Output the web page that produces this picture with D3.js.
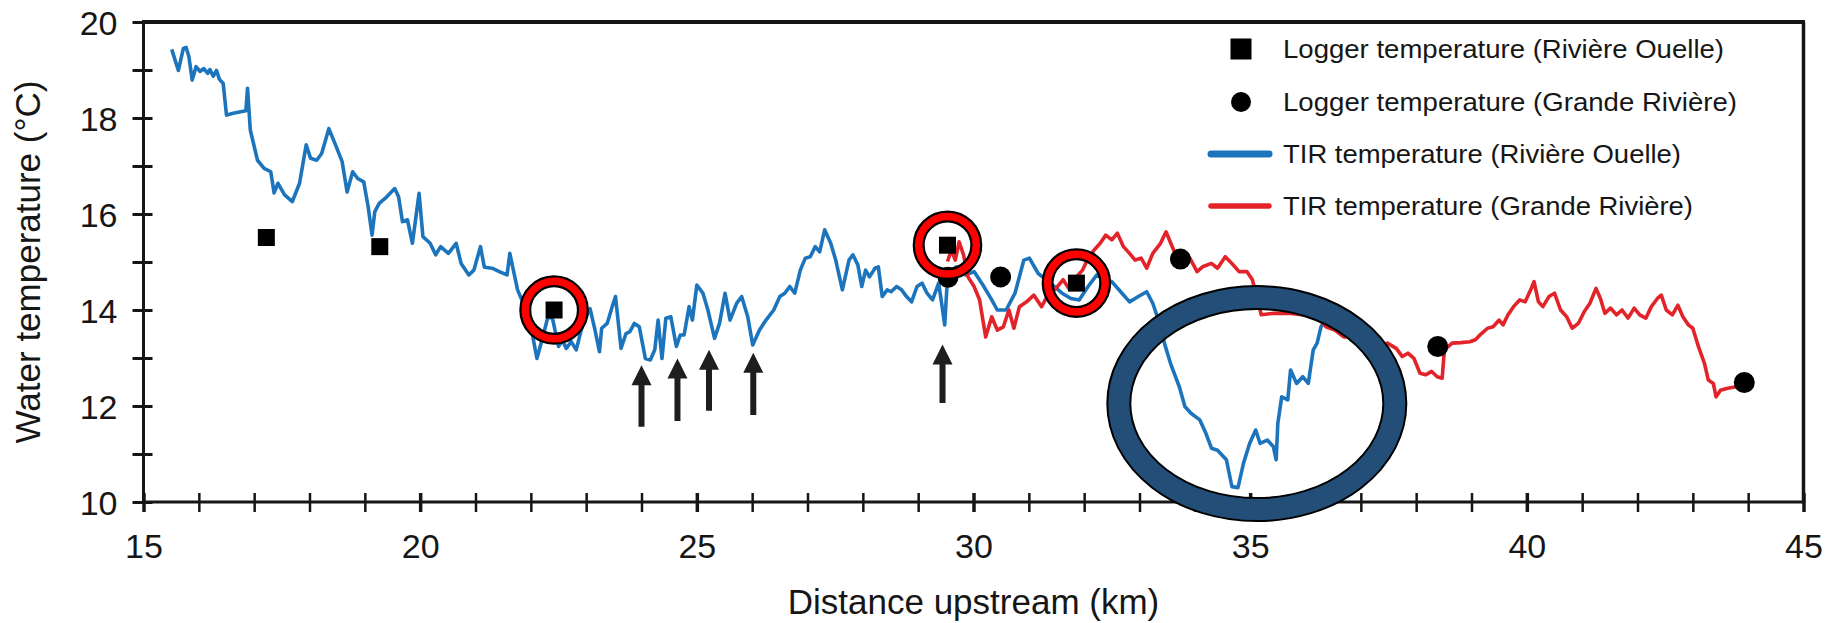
<!DOCTYPE html>
<html>
<head>
<meta charset="utf-8">
<script src="https://cdn.jsdelivr.net/npm/d3@7"></script>
<style>
html, body { margin: 0; padding: 0; background: #fff; }
svg { display: block; font-family: "Liberation Sans", Arial, Helvetica, sans-serif; }
</style>
</head>
<body>
<svg id="chart" width="1844" height="623"></svg>
<script>
// TIR temperature along Rivière Ouelle: [distance km, temperature °C]
const tirOuelle = [
  [15.51,19.43],[15.63,18.99],[15.72,19.45],[15.77,19.47],[15.82,19.28],[15.88,18.79],[15.95,19.07],[16.02,18.97],
  [16.09,19.03],[16.16,18.93],[16.20,19.01],[16.26,18.87],[16.32,18.99],[16.37,18.81],[16.44,18.72],[16.50,18.06],
  [16.62,18.10],[16.85,18.15],[16.88,18.62],[16.93,17.75],[17.06,17.12],[17.18,16.95],[17.30,16.88],[17.36,16.44],
  [17.43,16.64],[17.55,16.40],[17.69,16.26],[17.82,16.64],[17.94,17.44],[18.02,17.16],[18.13,17.12],[18.22,17.26],
  [18.35,17.78],[18.47,17.44],[18.59,17.09],[18.68,16.46],[18.78,16.88],[18.87,16.74],[18.98,16.67],[19.06,16.15],
  [19.13,15.56],[19.18,16.05],[19.26,16.22],[19.37,16.33],[19.54,16.53],[19.61,16.36],[19.68,15.84],[19.77,15.88],
  [19.86,15.39],[19.98,16.43],[20.05,15.53],[20.18,15.39],[20.28,15.15],[20.37,15.32],[20.51,15.18],[20.65,15.39],
  [20.74,14.97],[20.88,14.73],[20.97,14.83],[21.09,15.32],[21.16,14.89],[21.30,14.87],[21.43,14.80],[21.57,14.73],
  [21.62,15.18],[21.76,14.42],[21.94,13.93],[22.03,13.48],[22.11,12.99],[22.20,13.37],[22.31,13.86],[22.39,13.83],
  [22.50,13.24],[22.57,13.37],[22.64,13.20],[22.73,13.34],[22.82,13.17],[22.94,13.72],[23.07,14.03],[23.16,13.58],
  [23.24,13.13],[23.28,13.62],[23.38,13.72],[23.47,14.07],[23.53,14.28],[23.63,13.20],[23.72,13.51],[23.79,13.55],
  [23.87,13.72],[23.96,13.65],[24.07,12.99],[24.16,12.96],[24.24,13.17],[24.30,13.79],[24.37,12.99],[24.44,13.83],
  [24.53,13.86],[24.63,13.24],[24.70,13.48],[24.77,13.48],[24.86,14.07],[24.92,13.79],[25.00,14.52],[25.11,14.35],
  [25.20,14.00],[25.32,13.41],[25.41,13.72],[25.51,14.35],[25.60,13.79],[25.72,14.14],[25.81,14.28],[25.92,13.86],
  [26.01,13.27],[26.13,13.58],[26.25,13.79],[26.39,14.00],[26.50,14.28],[26.59,14.35],[26.68,14.49],[26.77,14.35],
  [26.87,14.83],[26.96,15.08],[27.05,15.11],[27.14,15.32],[27.22,15.21],[27.31,15.67],[27.42,15.39],[27.51,15.04],
  [27.63,14.42],[27.75,15.04],[27.82,15.15],[27.91,14.94],[27.98,14.49],[28.05,14.83],[28.12,14.69],[28.22,14.87],
  [28.28,14.90],[28.35,14.28],[28.44,14.42],[28.51,14.38],[28.61,14.49],[28.70,14.42],[28.79,14.28],[28.88,14.17],
  [28.98,14.49],[29.07,14.56],[29.16,14.35],[29.26,14.21],[29.37,14.56],[29.42,14.17],[29.48,13.69],[29.53,14.69],
  [29.58,14.80],[29.69,14.90],[29.85,14.73],[30.01,14.80],[30.17,14.52],[30.33,14.21],[30.43,14.00],[30.59,14.00],
  [30.75,14.35],[30.91,15.04],[31.01,15.08],[31.17,14.76],[31.39,14.56],[31.60,14.35],[31.76,14.24],[31.91,14.21],
  [32.07,14.49],[32.23,14.73],[32.39,14.63],[32.50,14.59],[32.66,14.38],[32.82,14.17],[32.98,14.28],[33.13,14.38],
  [33.24,14.14],[33.35,13.76],[33.45,13.31],[33.56,12.89],[33.72,12.40],[33.82,11.99],[33.93,11.85],[34.09,11.71],
  [34.20,11.43],[34.30,11.12],[34.41,11.08],[34.57,10.88],[34.67,10.32],[34.78,10.30],[34.88,10.81],[34.99,11.22],
  [35.10,11.50],[35.18,11.22],[35.31,11.29],[35.42,11.15],[35.47,10.88],[35.50,11.64],[35.57,12.19],[35.68,12.13],
  [35.73,12.75],[35.84,12.47],[35.95,12.61],[36.05,12.47],[36.14,13.17],[36.21,13.31],[36.28,13.65],[36.35,13.79]
];

// TIR temperature along Grande Rivière
const tirGrande = [
  [29.53,15.01],[29.60,15.25],[29.67,15.04],[29.74,15.42],[29.82,15.15],[29.90,14.69],[30.01,14.49],[30.11,14.21],
  [30.22,13.44],[30.33,13.86],[30.43,13.58],[30.54,13.65],[30.64,14.00],[30.73,13.62],[30.83,14.07],[30.96,14.17],
  [31.09,14.31],[31.23,14.07],[31.33,14.28],[31.49,14.45],[31.62,14.63],[31.72,14.45],[31.86,14.69],[31.97,14.83],
  [32.07,15.08],[32.18,15.25],[32.29,15.39],[32.39,15.56],[32.50,15.46],[32.60,15.60],[32.71,15.32],[32.82,15.18],
  [32.92,15.04],[33.03,15.08],[33.13,14.87],[33.24,15.18],[33.38,15.39],[33.48,15.63],[33.58,15.35],[33.67,15.11],
  [33.77,15.08],[33.91,15.08],[34.04,14.80],[34.14,14.90],[34.30,14.97],[34.41,14.87],[34.55,15.11],[34.67,14.97],
  [34.80,14.80],[34.94,14.80],[35.04,14.63],[35.15,14.14],[35.20,13.90],[35.42,13.93],[35.73,13.93],[35.95,13.90],
  [36.21,13.86],[36.37,13.65],[36.53,13.58],[36.69,13.44],[36.85,13.44],[37.01,13.41],[37.16,13.37],[37.32,13.24],
  [37.48,13.31],[37.64,13.20],[37.75,13.03],[37.85,13.10],[37.96,12.99],[38.07,12.68],[38.17,12.65],[38.28,12.72],
  [38.38,12.61],[38.47,12.58],[38.51,13.17],[38.65,13.31],[38.81,13.32],[38.97,13.34],[39.07,13.38],[39.18,13.51],
  [39.29,13.62],[39.39,13.65],[39.50,13.79],[39.57,13.69],[39.66,13.90],[39.76,14.07],[39.87,14.21],[39.97,14.17],
  [40.08,14.45],[40.13,14.59],[40.21,14.17],[40.29,14.07],[40.40,14.28],[40.50,14.35],[40.61,14.00],[40.72,13.86],
  [40.82,13.62],[40.93,13.72],[41.04,13.97],[41.14,14.14],[41.25,14.45],[41.33,14.24],[41.41,13.93],[41.51,14.04],
  [41.62,13.90],[41.72,14.00],[41.83,13.83],[41.94,14.04],[42.04,13.90],[42.15,13.83],[42.25,14.07],[42.36,14.24],
  [42.43,14.31],[42.52,14.00],[42.63,13.90],[42.73,14.10],[42.82,13.86],[42.92,13.69],[43.00,13.62],[43.10,13.24],
  [43.21,12.89],[43.28,12.54],[43.37,12.47],[43.42,12.19],[43.50,12.33],[43.63,12.37],[43.79,12.40],[43.90,12.47]
];

// logger readings
const loggerOuelle = [[17.22,15.51],[19.27,15.32],[22.42,14.00],[29.53,15.35],[31.86,14.56]];
const loggerGrande = [[29.54,14.68],[30.49,14.69],[33.74,15.06],[38.39,13.24],[43.93,12.49]];

// annotations (data units)
const circledLoggers = [2, 3, 4];
const arrowKm   = [24.00, 24.65, 25.22, 26.02, 29.44];
const arrowTip  = [12.85, 12.99, 13.17, 13.11, 13.28];
const arrowBase = [11.57, 11.69, 11.90, 11.81, 12.06];
const ellipseCentre = [35.12, 12.05];

const xTicks = d3.range(15, 46, 1);
const yTicks = d3.range(10, 21, 1);

const legendLabels = [
  "Logger temperature (Rivière Ouelle)",
  "Logger temperature (Grande Rivière)",
  "TIR temperature (Rivière Ouelle)",
  "TIR temperature (Grande Rivière)"
];

const BLUE = "#1c75bc", RED = "#e2232a", INK = "#161616";

const W = 1844, H = 623;
const margin = { top: 22, right: 40.5, bottom: 121, left: 143.5 };
const svg = d3.select("#chart");

const x = d3.scaleLinear().domain([15, 45]).range([margin.left, W - margin.right]);
const y = d3.scaleLinear().domain([10, 20]).range([H - margin.bottom, margin.top]);

// x axis
const xAxis = svg.append("g")
    .attr("transform", `translate(0,${y(10)})`)
    .call(d3.axisBottom(x).tickValues(xTicks).tickSize(10).tickFormat(d => d % 5 === 0 ? d : ""));
xAxis.select(".domain").remove();
xAxis.selectAll(".tick line")
    .attr("y1", -9).attr("y2", 10)
    .attr("stroke", INK)
    .attr("stroke-width", d => d % 5 === 0 ? 3.5 : 2.5);
xAxis.selectAll(".tick text")
    .attr("y", 56).attr("dy", null)
    .attr("fill", INK)
    .style("font-size", "34px");

// y axis
const yAxis = svg.append("g")
    .attr("transform", `translate(${x(15)},0)`)
    .call(d3.axisLeft(y).tickValues(yTicks).tickSize(11).tickFormat(d => d % 2 === 0 ? d : ""));
yAxis.select(".domain").remove();
yAxis.selectAll(".tick line")
    .attr("x1", -11).attr("x2", 9)
    .attr("stroke", INK)
    .attr("stroke-width", 3);
yAxis.selectAll(".tick text")
    .attr("x", -26).attr("dy", "0.36em")
    .attr("fill", INK)
    .style("font-size", "34px");

// frame
svg.append("line").attr("x1", x(15)).attr("x2", x(45)).attr("y1", y(10)).attr("y2", y(10))
    .attr("stroke", INK).attr("stroke-width", 3);
svg.append("line").attr("x1", x(15)).attr("x2", x(15)).attr("y1", y(20) - 2).attr("y2", y(10) + 1.5)
    .attr("stroke", INK).attr("stroke-width", 3);
svg.append("line").attr("x1", x(15) - 1.5).attr("x2", x(45) + 1.5).attr("y1", y(20)).attr("y2", y(20))
    .attr("stroke", INK).attr("stroke-width", 4);
svg.append("line").attr("x1", x(45)).attr("x2", x(45)).attr("y1", y(20)).attr("y2", y(10) + 1.5)
    .attr("stroke", INK).attr("stroke-width", 3.5);

// axis titles
svg.append("text")
    .attr("text-anchor", "middle")
    .attr("x", x(30)).attr("y", 614)
    .attr("fill", INK)
    .style("font-size", "35px")
    .text("Distance upstream (km)");

svg.append("text")
    .attr("text-anchor", "middle")
    .attr("transform", `translate(40,${y(15)}) rotate(-90)`)
    .attr("fill", INK)
    .style("font-size", "35px")
    .text("Water temperature (°C)");

// TIR lines
const line = d3.line().x(d => x(d[0])).y(d => y(d[1]));

svg.append("path").datum(tirOuelle)
    .attr("d", line).attr("fill", "none")
    .attr("stroke", BLUE).attr("stroke-width", 3.6).attr("stroke-linejoin", "round");

svg.append("path").datum(tirGrande)
    .attr("d", line).attr("fill", "none")
    .attr("stroke", RED).attr("stroke-width", 3.6).attr("stroke-linejoin", "round");

// logger markers
svg.selectAll(".dot-grande")
    .data(loggerGrande)
    .enter().append("circle")
    .attr("class", "dot-grande")
    .attr("cx", d => x(d[0])).attr("cy", d => y(d[1]))
    .attr("r", 10.5).attr("fill", "#000");

svg.selectAll(".sq-ouelle")
    .data(loggerOuelle)
    .enter().append("rect")
    .attr("class", "sq-ouelle")
    .attr("x", d => x(d[0]) - 8.5).attr("y", d => y(d[1]) - 8.5)
    .attr("width", 17).attr("height", 17).attr("fill", "#000");

// red rings round some loggers
const circled = circledLoggers.map(i => loggerOuelle[i]);
svg.selectAll(".ring-out")
    .data(circled).enter().append("circle")
    .attr("cx", d => x(d[0])).attr("cy", d => y(d[1]))
    .attr("r", 28.8).attr("fill", "none")
    .attr("stroke", "#000").attr("stroke-width", 12);
svg.selectAll(".ring-in")
    .data(circled).enter().append("circle")
    .attr("cx", d => x(d[0])).attr("cy", d => y(d[1]))
    .attr("r", 28.8).attr("fill", "none")
    .attr("stroke", "#ff0000").attr("stroke-width", 7.5);

// arrows
const arrowData = arrowKm.map((k, i) => ({ k, tip: arrowTip[i], base: arrowBase[i] }));
svg.selectAll(".arrow")
    .data(arrowData).enter().append("path")
    .attr("class", "arrow")
    .attr("fill", "#1e1e1e")
    .attr("d", d => {
        const cx = x(d.k), ty = y(d.tip), by = y(d.base);
        const hw = 10, hl = 20, sw = 3;
        return `M${cx},${ty} L${cx + hw},${ty + hl} L${cx + sw},${ty + hl} L${cx + sw},${by}`
             + ` L${cx - sw},${by} L${cx - sw},${ty + hl} L${cx - hw},${ty + hl} Z`;
    });

// big ellipse
svg.append("ellipse")
    .attr("cx", x(ellipseCentre[0])).attr("cy", y(ellipseCentre[1]))
    .attr("rx", 138).attr("ry", 106)
    .attr("fill", "none").attr("stroke", "#000").attr("stroke-width", 25);
svg.append("ellipse")
    .attr("cx", x(ellipseCentre[0])).attr("cy", y(ellipseCentre[1]))
    .attr("rx", 138).attr("ry", 106)
    .attr("fill", "none").attr("stroke", "#224e77").attr("stroke-width", 21);

// legend
const legend = svg.append("g").attr("transform", "translate(1241,0)");
const rowY = [49, 102, 154, 206];
const textWidths = [441, 454, 398, 410];

legend.append("rect").attr("x", -10.5).attr("y", rowY[0] - 10.5)
    .attr("width", 21).attr("height", 21).attr("fill", "#000");
legend.append("circle").attr("cx", 0).attr("cy", rowY[1]).attr("r", 10).attr("fill", "#000");
legend.append("line").attr("x1", -30).attr("x2", 28).attr("y1", rowY[2]).attr("y2", rowY[2])
    .attr("stroke", BLUE).attr("stroke-width", 7).attr("stroke-linecap", "round");
legend.append("line").attr("x1", -30).attr("x2", 28).attr("y1", rowY[3]).attr("y2", rowY[3])
    .attr("stroke", RED).attr("stroke-width", 5.5).attr("stroke-linecap", "round");

legend.selectAll(".leg-text")
    .data(legendLabels).enter().append("text")
    .attr("class", "leg-text")
    .attr("x", 42)
    .attr("y", (d, i) => rowY[i] + 8.5)
    .attr("textLength", (d, i) => textWidths[i])
    .attr("lengthAdjust", "spacingAndGlyphs")
    .attr("fill", INK)
    .style("font-size", "25px")
    .text(d => d);
</script>
</body>
</html>
